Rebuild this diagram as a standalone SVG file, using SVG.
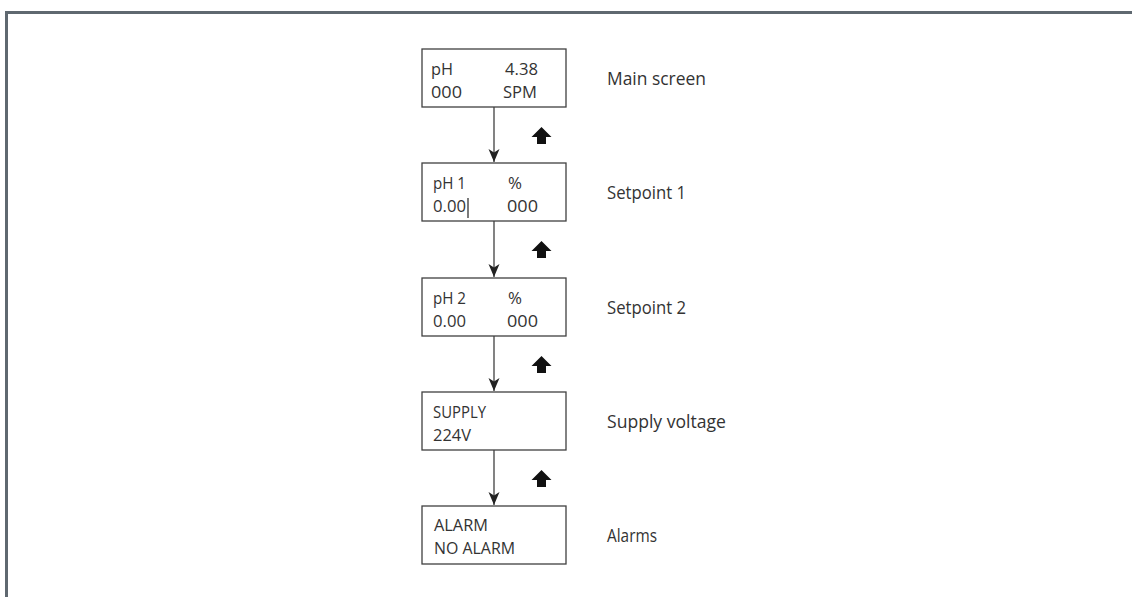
<svg xmlns="http://www.w3.org/2000/svg" width="1132" height="597" viewBox="0 0 1132 597">
<style>
.box{fill:#fff;stroke:#404040;stroke-width:1.3}
.t{font-family:"Open Sans","Liberation Sans",sans-serif;font-size:17px;fill:#333}
.lbl{font-family:"Open Sans","Liberation Sans",sans-serif;font-size:18px;fill:#333}
.conn{stroke:#404040;stroke-width:1.3;fill:none}
.up{fill:#111}
</style>
<defs>
<marker id="ah" markerUnits="userSpaceOnUse" markerWidth="14" markerHeight="12" refX="13" refY="6" orient="auto">
<path d="M0,0.5 L13,6 L0,11.5 L3.5,6 Z" fill="#222"/>
</marker>
<path id="uparrow" d="M0,0 L10,10 L4.5,10 L4.5,17 L-4.5,17 L-4.5,10 L-10,10 Z"/>
</defs>
<rect width="1132" height="597" fill="#fff"/>
<path d="M6.5,597 V12.5 H1132" fill="none" stroke="#5f6870" stroke-width="3"/>

<g id="connectors">
<line class="conn" x1="494" y1="107" x2="494" y2="162" marker-end="url(#ah)"/>
<line class="conn" x1="494" y1="221" x2="494" y2="277" marker-end="url(#ah)"/>
<line class="conn" x1="494" y1="336" x2="494" y2="391" marker-end="url(#ah)"/>
<line class="conn" x1="494" y1="450" x2="494" y2="505" marker-end="url(#ah)"/>
<use href="#uparrow" class="up" x="541.5" y="127"/>
<use href="#uparrow" class="up" x="541.5" y="241"/>
<use href="#uparrow" class="up" x="541.5" y="356"/>
<use href="#uparrow" class="up" x="541.5" y="470"/>
</g>

<g id="main">
<rect class="box" x="422" y="49" width="144" height="58"/>
<text class="t" x="431" y="75" textLength="22" lengthAdjust="spacingAndGlyphs">pH</text>
<text class="t" x="505" y="75" textLength="33" lengthAdjust="spacingAndGlyphs">4.38</text>
<text class="t" x="431" y="98" textLength="31" lengthAdjust="spacingAndGlyphs">000</text>
<text class="t" x="503" y="98" textLength="34" lengthAdjust="spacingAndGlyphs">SPM</text>
<text class="lbl" x="607" y="85" textLength="99" lengthAdjust="spacingAndGlyphs">Main screen</text>
</g>

<g id="sp1">
<rect class="box" x="422" y="163" width="144" height="58"/>
<text class="t" x="433" y="189" textLength="33" lengthAdjust="spacingAndGlyphs">pH 1</text>
<text class="t" x="508" y="189" textLength="14" lengthAdjust="spacingAndGlyphs">%</text>
<text class="t" x="433" y="212" textLength="33" lengthAdjust="spacingAndGlyphs">0.00</text>
<line x1="468" y1="198" x2="468" y2="218" stroke="#222" stroke-width="1.2"/>
<text class="t" x="507" y="212" textLength="31" lengthAdjust="spacingAndGlyphs">000</text>
<text class="lbl" x="607" y="199" textLength="79" lengthAdjust="spacingAndGlyphs">Setpoint 1</text>
</g>

<g id="sp2">
<rect class="box" x="422" y="278" width="144" height="58"/>
<text class="t" x="433" y="304" textLength="33" lengthAdjust="spacingAndGlyphs">pH 2</text>
<text class="t" x="508" y="304" textLength="14" lengthAdjust="spacingAndGlyphs">%</text>
<text class="t" x="433" y="327" textLength="33" lengthAdjust="spacingAndGlyphs">0.00</text>
<text class="t" x="507" y="327" textLength="31" lengthAdjust="spacingAndGlyphs">000</text>
<text class="lbl" x="607" y="314" textLength="79" lengthAdjust="spacingAndGlyphs">Setpoint 2</text>
</g>

<g id="supply">
<rect class="box" x="422" y="392" width="144" height="58"/>
<text class="t" x="433" y="418" textLength="53" lengthAdjust="spacingAndGlyphs">SUPPLY</text>
<text class="t" x="433" y="441" textLength="38" lengthAdjust="spacingAndGlyphs">224V</text>
<text class="lbl" x="607" y="428" textLength="119" lengthAdjust="spacingAndGlyphs">Supply voltage</text>
</g>

<g id="alarms">
<rect class="box" x="422" y="506" width="144" height="58"/>
<text class="t" x="434" y="531" textLength="54" lengthAdjust="spacingAndGlyphs">ALARM</text>
<text class="t" x="434" y="554" textLength="81" lengthAdjust="spacingAndGlyphs">NO ALARM</text>
<text class="lbl" x="607" y="542" textLength="50" lengthAdjust="spacingAndGlyphs">Alarms</text>
</g>
</svg>
